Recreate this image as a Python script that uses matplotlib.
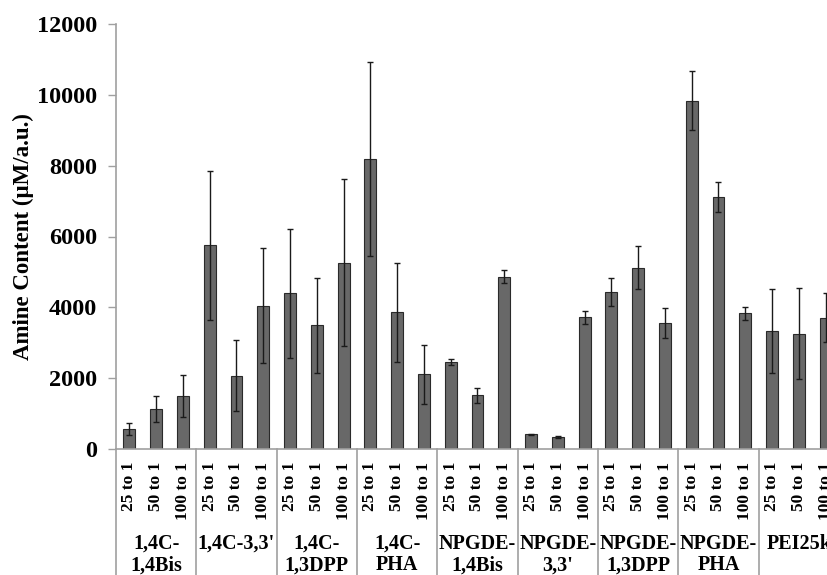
import numpy as np
import matplotlib
matplotlib.use("Agg")
import matplotlib.pyplot as plt
import matplotlib.transforms as mtransforms

# 데이터
groups = ["1,4C-\n1,4Bis", "1,4C-3,3'", "1,4C-\n1,3DPP", "1,4C-\nPHA",
          "NPGDE-\n1,4Bis", "NPGDE-\n3,3'", "NPGDE-\n1,3DPP", "NPGDE-\nPHA", "PEI25k"]
ratios = ["25 to 1", "50 to 1", "100 to 1"]
values = [555, 1130, 1500,
          5750, 2070, 4045,
          4395, 3500, 5260,
          8190, 3860, 2110,
          2457, 1516, 4867,
          414, 348, 3718,
          4424, 5120, 3549,
          9837, 7116, 3831,
          3342, 3257, 3709]
errors = [170, 360, 590,
          2100, 1000, 1620,
          1830, 1340, 2360,
          2730, 1390, 830,
          85, 210, 190,
          20, 25, 180,
          395, 600, 420,
          830, 415, 190,
          1185, 1290, 690]

plt.rcParams['font.family'] = ['Liberation Serif', 'DejaVu Serif']
plt.rcParams['font.weight'] = 'bold'

fig = plt.figure(figsize=(8.28, 5.75), dpi=100)
ax = fig.add_axes([116 / 828, 1 - 449 / 575, 723 / 828, 425 / 575])

x = np.arange(len(values))
ax.bar(x, values, width=0.44, color='#686868', edgecolor='#2a2a2a', linewidth=0.8, zorder=2)
ax.errorbar(x, values, yerr=errors, fmt='none', ecolor='#1a1a1a', elinewidth=1.0,
            capsize=2.5, capthick=1.0, zorder=3)

ax.set_xlim(-0.5, len(values) - 0.5)
ax.set_ylim(0, 12000)
ax.set_yticks(np.arange(0, 12001, 2000))
for lbl in ax.get_yticklabels():
    lbl.set_fontsize(17.5)
    lbl.set_fontweight('bold')
ax.set_ylabel("Amine Content (μM/a.u.)", fontsize=16.5, fontweight='bold', labelpad=2)

ax.set_xticks(x)
ax.set_xticklabels(ratios * len(groups), rotation=90, fontsize=12.5, fontweight='bold', va='top')
ax.tick_params(axis='x', length=0, pad=9)
ax.tick_params(axis='y', length=5.8, width=1, color='#a0a0a0', direction='out', pad=8)

for side in ['top', 'right']:
    ax.spines[side].set_visible(False)
for side in ['left', 'bottom']:
    ax.spines[side].set_color('#a0a0a0')
    ax.spines[side].set_linewidth(1.2)

# 그룹 구분선과 그룹 라벨
trans = mtransforms.blended_transform_factory(ax.transData, ax.transAxes)
n = len(ratios)
bottom_y = -126 / 425
for i in range(len(groups) + 1):
    xs = i * n - 0.5
    ax.plot([xs, xs], [0, bottom_y], transform=trans, color='#a0a0a0', lw=1.2, clip_on=False)
for i, g in enumerate(groups):
    xc = i * n + (n - 1) / 2
    ax.text(xc, -85 / 425, g, transform=trans, ha='center', va='top', fontsize=14.5,
            fontweight='bold', linespacing=1.1)

fig.savefig("out.png", dpi=100)
